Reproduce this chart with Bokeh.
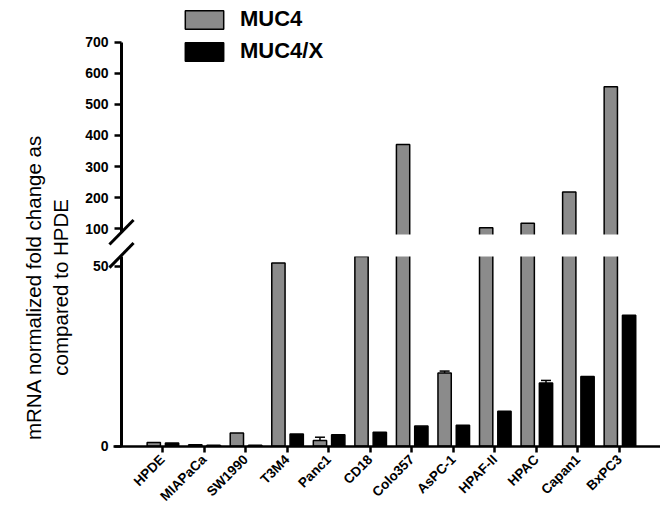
import numpy as np
from bokeh.plotting import figure
from bokeh.models import (Range1d, LinearAxis, FixedTicker, ColumnDataSource, Legend,
                          LegendItem, Label, BoxAnnotation, Whisker, TeeHead, CDSView,
                          BooleanFilter)
from bokeh.transform import dodge
from bokeh.embed import file_html
from bokeh.resources import INLINE

# ---------------- data ----------------
categories = ["HPDE", "MIAPaCa", "SW1990", "T3M4", "Panc1", "CD18", "Colo357",
              "AsPC-1", "HPAF-II", "HPAC", "Capan1", "BxPC3"]
muc4 = [1.0, 0.4, 3.7, 51.0, 1.6, 52.8, 371.0, 20.4, 103.0, 118.0, 218.0, 557.0]
muc4x = [0.9, 0.3, 0.3, 3.4, 3.2, 3.9, 5.6, 5.8, 9.7, 17.6, 19.4, 36.4]
muc4_err = [0, 0, 0, 0, 0.9, 0, 0, 0.5, 0, 0, 0, 0]
muc4x_err = [0, 0, 0, 0, 0, 0, 0, 0, 0, 0.7, 0, 0]
low_ticks = [0, 50]
high_ticks = [100, 200, 300, 400, 500, 600, 700]
series = ["MUC4", "MUC4/X"]

# ---------------- layout constants ----------------
GRAY = "#8b8b8b"
FONT = "Liberation Sans"
LOW_MAX = 52.8          # top of lower segment (low units)
HIGH_MIN = 86.0         # bottom of upper segment (high units)
LOW_CLIP = 57.0         # bars hidden inside gap
HIGH_CLIP = 70.0
BAND_TOP = 58.9         # gap top in low units
AX = -0.987             # x position of the y axes
OFF_G, OFF_B, BW = -0.21, 0.23, 0.32

x = np.arange(len(categories))
src = ColumnDataSource(dict(
    x=x,
    muc4=muc4,
    muc4x=muc4x,
    muc4_low=np.minimum(muc4, LOW_CLIP),
    muc4x_low=np.minimum(muc4x, LOW_CLIP),
))

p = figure(width=660, height=514, output_backend="svg", toolbar_location=None,
           x_range=Range1d(-3.899, 11.986), y_range=Range1d(-19.0, 124.0),
           min_border_left=0, min_border_right=0, min_border_top=0,
           min_border_bottom=0, y_axis_location=None)
p.extra_y_ranges = {"high": Range1d(-818.7, 834.1)}
p.outline_line_color = None
p.xgrid.visible = False
p.ygrid.visible = False

# lower segment bars
g_low = p.vbar(x=dodge("x", OFF_G), top="muc4_low", bottom=0, width=BW, source=src,
               fill_color=GRAY, line_color="black", line_width=1.5)
b_low = p.vbar(x=dodge("x", OFF_B), top="muc4x_low", bottom=0, width=BW, source=src,
               fill_color="black", line_color="black", line_width=1.5)

# upper segment bars
g_view = CDSView(filter=BooleanFilter([v > HIGH_MIN for v in muc4]))
b_view = CDSView(filter=BooleanFilter([v > HIGH_MIN for v in muc4x]))
p.vbar(x=dodge("x", OFF_G), top="muc4", bottom=HIGH_CLIP, width=BW, source=src,
       view=g_view, y_range_name="high",
       fill_color=GRAY, line_color="black", line_width=1.5)
p.vbar(x=dodge("x", OFF_B), top="muc4x", bottom=HIGH_CLIP, width=BW, source=src,
       view=b_view, y_range_name="high",
       fill_color="black", line_color="black", line_width=1.5)

# error bars
def whisk(vals, errs, off):
    b, lo, up = [], [], []
    for i, (v, e) in enumerate(zip(vals, errs)):
        if e > 0:
            b.append(i + off); lo.append(v); up.append(v + e)
    return ColumnDataSource(dict(base=b, lower=lo, upper=up))

for vals, errs, off in [(muc4, muc4_err, OFF_G), (muc4x, muc4x_err, OFF_B)]:
    w = Whisker(base="base", lower="lower", upper="upper", source=whisk(vals, errs, off),
                dimension="height", line_width=1.5, line_color="black",
                upper_head=TeeHead(size=10, line_width=1.5, line_color="black"),
                lower_head=None)
    p.add_layout(w)

# white gap band for the axis break
band = BoxAnnotation(bottom=LOW_MAX, top=BAND_TOP, fill_color="white", fill_alpha=1,
                     line_color=None)
p.add_layout(band)

# y axes
def style_axis(a):
    a.axis_line_width = 3
    a.axis_line_color = "black"
    a.major_tick_line_width = 2.5
    a.major_tick_line_color = "black"
    a.major_tick_out = 7
    a.major_tick_in = 0
    a.minor_tick_line_color = None
    a.major_label_text_font = FONT
    a.major_label_text_font_style = "bold"
    a.major_label_text_font_size = "14px"
    a.major_label_text_color = "black"

low_axis = LinearAxis(ticker=FixedTicker(ticks=low_ticks), fixed_location=AX, bounds=(0, 53))
high_axis = LinearAxis(y_range_name="high", ticker=FixedTicker(ticks=high_ticks),
                       fixed_location=AX, bounds=(89, 700))
for a in (low_axis, high_axis):
    style_axis(a)
    a.major_label_standoff = 6
p.add_layout(low_axis, "left")
p.add_layout(high_axis, "left")

# x axis (pinned at y = 0)
xa = p.xaxis[0]
style_axis(xa)
xa.fixed_location = 0
xa.axis_line_width = 2.5
xa.major_tick_out = 6
xa.ticker = FixedTicker(ticks=[int(i) for i in x])
xa.major_label_overrides = {int(i): c for i, c in zip(x, categories)}
xa.major_label_orientation = np.pi / 4
xa.major_label_text_font_size = "13.5px"
xa.major_label_standoff = 5
xa.bounds = (-1.18, 11.986)

# break marks
sl_low = p.segment(x0=[AX - 0.29], y0=[53.1 - 3.43], x1=[AX + 0.29], y1=[53.1 + 3.43],
                   line_color="black", line_width=3)
sl_high = p.segment(x0=[AX - 0.29], y0=[89 - 39.5], x1=[AX + 0.29], y1=[89 + 39.5],
                    line_color="black", line_width=3, y_range_name="high")
sl_low.level = "overlay"
sl_high.level = "overlay"

# y axis title (two lines)
for txt, xx in [("mRNA normalized fold change as", -3.105), ("compared to HPDE", -2.455)]:
    p.add_layout(Label(x=xx, y=44.2, text=txt, angle=np.pi / 2, text_align="center",
                       text_baseline="middle", text_font=FONT, text_font_size="20.5px",
                       text_color="black"))

legend = Legend(items=[LegendItem(label=series[0], renderers=[g_low]),
                       LegendItem(label=series[1], renderers=[b_low])],
                location=(180, 450), glyph_width=48, glyph_height=23,
                label_standoff=12, spacing=6, padding=0, margin=0,
                border_line_color=None, background_fill_alpha=0, label_text_font=FONT,
                label_text_font_style="bold", label_text_font_size="22px",
                label_text_color="black", label_height=23)
p.add_layout(legend)

open("out.html", "w").write(file_html(p, INLINE))
